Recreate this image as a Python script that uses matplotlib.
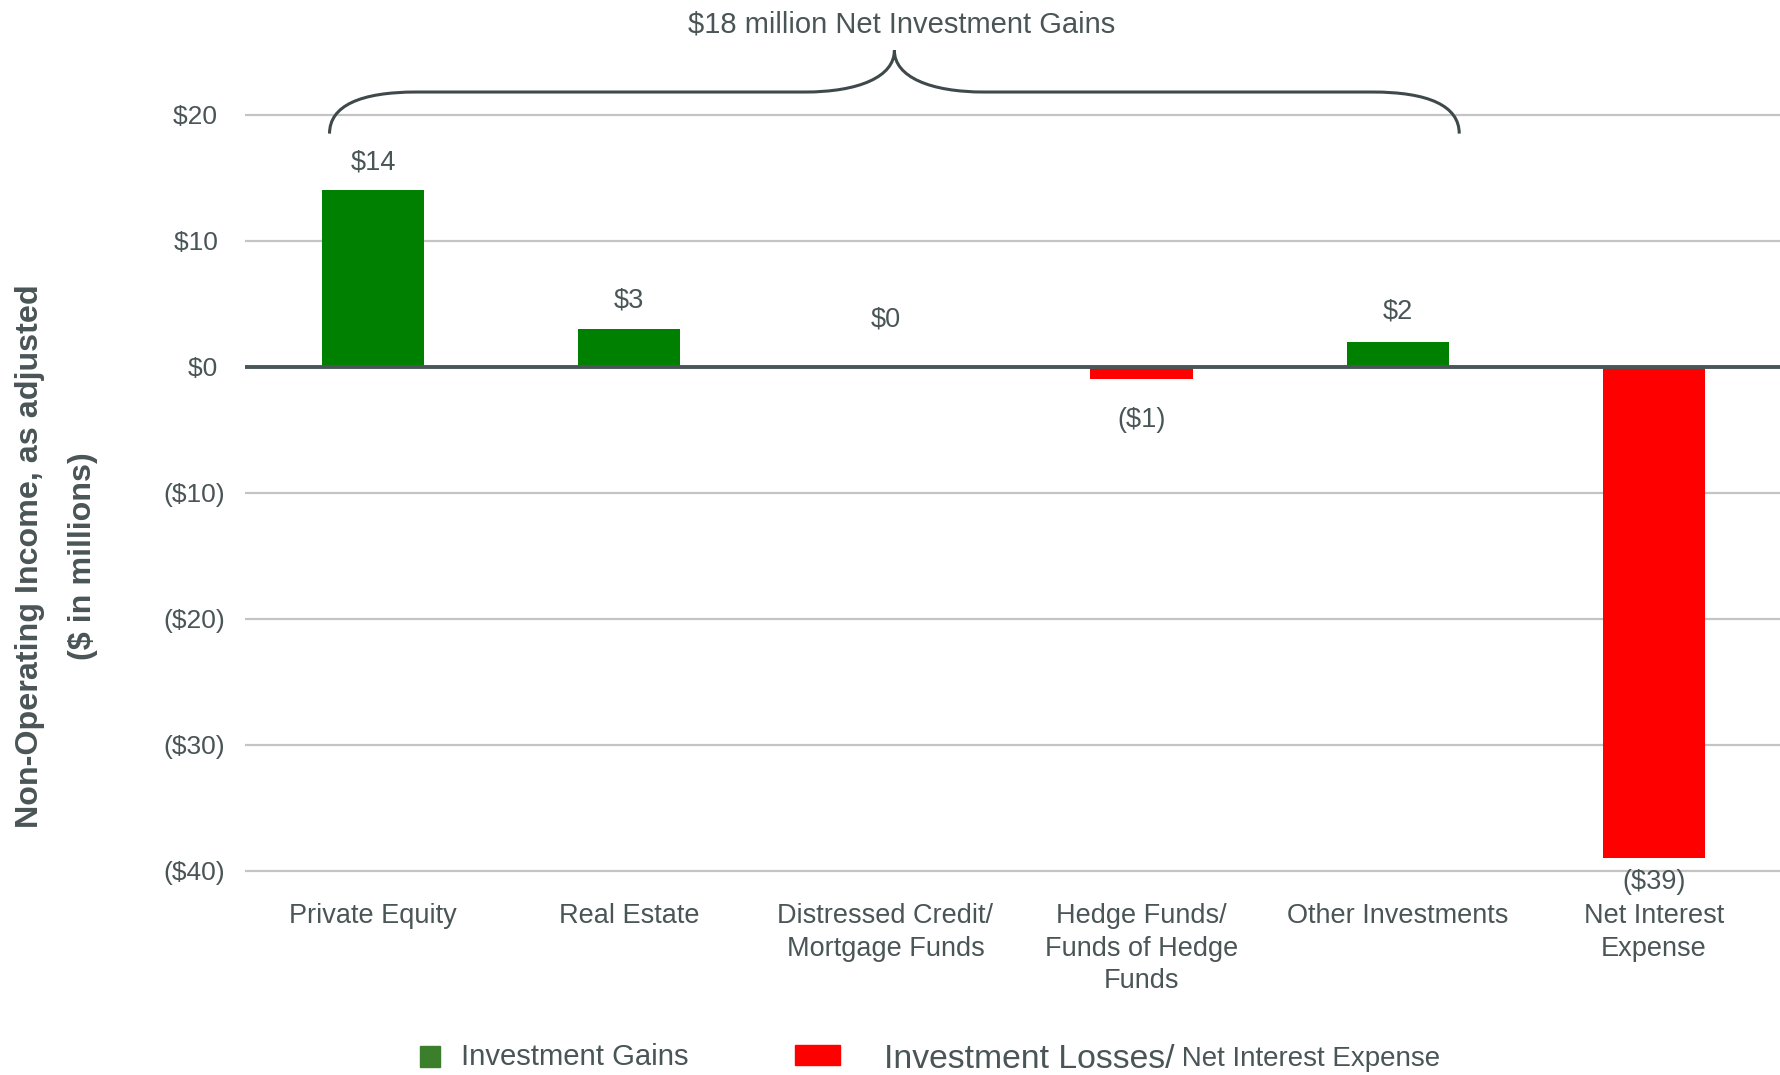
import matplotlib
matplotlib.use("Agg")
import matplotlib.pyplot as plt
from matplotlib.path import Path
from matplotlib.patches import PathPatch, Rectangle

# ---- data ----
categories = ["Private Equity", "Real Estate", "Distressed Credit/\nMortgage Funds",
              "Hedge Funds/\nFunds of Hedge\nFunds", "Other Investments", "Net Interest\nExpense"]
values = [14, 3, 0, -1, 2, -39]
value_labels = ["$14", "$3", "$0", "($1)", "$2", "($39)"]
yticks = [20, 10, 0, -10, -20, -30, -40]
ytick_labels = ["$20 ", "$10 ", "$0 ", "($10)", "($20)", "($30)", "($40)"]
title_text = "$18 million Net Investment Gains"
ylabel_text = "Non-Operating Income, as adjusted\n($ in millions)"
legend_gain = "Investment Gains"
legend_loss_a = "Investment Losses/"
legend_loss_b = " Net Interest Expense"

# ---- styling ----
SANS = "Liberation Sans"
TXT = "#4a5557"
GREEN = "#008000"
LEG_GREEN = "#3b7f2c"
RED = "#ff0000"
label_offsets = [28, 28, 47, -41, 30, -24]

W, H = 1780, 1075
fig = plt.figure(figsize=(W / 100, H / 100), dpi=100)
ax = fig.add_axes([245 / W, 1 - 883.3 / H, 1537 / W, (883.3 - 102.1) / H])

x = list(range(len(categories)))
colors = [GREEN if v > 0 else RED for v in values]
bars = ax.bar(x, values, width=0.4, color=colors, zorder=2)

ax.set_xlim(-0.5, len(categories) - 0.5)
ax.set_ylim(-41, 21)
for s in ax.spines.values():
    s.set_visible(False)
ax.set_yticks(yticks)
ax.set_yticklabels(ytick_labels, fontfamily=SANS, fontsize=19, color=TXT)
ax.set_xticks(x)
ax.set_xticklabels(categories, fontfamily=SANS, fontsize=19.5, color=TXT, linespacing=1.34, va="top")
ax.tick_params(axis="y", length=0, pad=14.5)
ax.tick_params(axis="x", length=0, pad=14)
for t in yticks:
    if t != 0:
        ax.axhline(t, color="#c4c4c4", lw=1.6, zorder=1)
ax.axhline(0, color="#4a5557", lw=2.8, zorder=3)

for b, v, lab, off in zip(bars, values, value_labels, label_offsets):
    ax.annotate(lab, (b.get_x() + b.get_width() / 2, v), xytext=(0, off),
                textcoords="offset pixels", ha="center", va="center",
                fontfamily=SANS, fontsize=19.5, color=TXT, annotation_clip=False)

# ---- brace ----
x0, x1 = -0.17, 4.24
tip = (x0 + x1) / 2
yb, yh, yt = 18.5, 21.8, 25.1
w = 0.34
wt = 0.35
verts = [
    (x0, yb), (x0, yb + 2.2), (x0 + w * 0.35, yh), (x0 + w, yh),
    (tip - wt, yh),
    (tip - wt * 0.4, yh), (tip, yh + 1.2), (tip, yt),
    (tip, yh + 1.2), (tip + wt * 0.4, yh), (tip + wt, yh),
    (x1 - w, yh),
    (x1 - w * 0.35, yh), (x1, yb + 2.2), (x1, yb),
]
codes = [Path.MOVETO, Path.CURVE4, Path.CURVE4, Path.CURVE4,
         Path.LINETO,
         Path.CURVE4, Path.CURVE4, Path.CURVE4,
         Path.CURVE4, Path.CURVE4, Path.CURVE4,
         Path.LINETO,
         Path.CURVE4, Path.CURVE4, Path.CURVE4]
ax.add_patch(PathPatch(Path(verts, codes), facecolor="none", edgecolor="#3f494b",
                       lw=2.2, clip_on=False, zorder=4))
ax.text(tip + 0.03, 27.15, title_text, ha="center", va="center", fontfamily=SANS,
        fontsize=21, color=TXT, clip_on=False)

# ---- y label ----
fig.text(56.5 / W, 1 - 556 / H, ylabel_text, rotation=90, ha="center", va="center",
         fontfamily=SANS, fontweight="bold", fontsize=23.2, color=TXT,
         linespacing=2.0, multialignment="center")

# ---- legend ----
ly = 1 - 1057 / H
fig.patches.append(Rectangle((420 / W, 1 - 1067 / H), 20 / W, 21 / H,
                             transform=fig.transFigure, color=LEG_GREEN))
fig.text(461 / W, ly, legend_gain, ha="left", va="center", fontfamily=SANS,
         fontsize=21.1, color=TXT)
fig.patches.append(Rectangle((795 / W, 1 - 1065 / H), 45 / W, 20 / H,
                             transform=fig.transFigure, color=RED))
t1 = fig.text(884 / W, ly - 0.002, legend_loss_a, ha="left", va="center", fontfamily=SANS,
              fontsize=24.3, color=TXT)
fig.canvas.draw()
bb = t1.get_window_extent()
fig.text(bb.x1 / W, ly - 0.002, legend_loss_b, ha="left", va="center", fontfamily=SANS,
         fontsize=20, color=TXT)

fig.savefig("out.png", dpi=100)
